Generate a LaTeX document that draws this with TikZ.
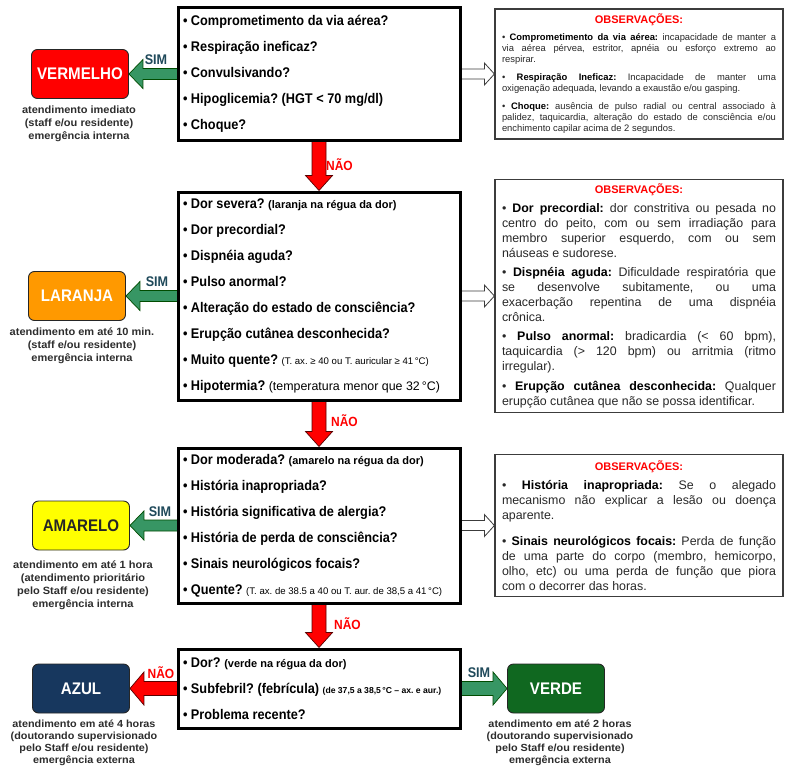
\documentclass[tikz,border=0pt]{standalone}
\usepackage{fontspec}
\setmainfont{Liberation Sans}
\newfontfamily\qfam[FakeStretch=0.91]{Liberation Sans}
\newfontfamily\lblfam[FakeStretch=0.9]{Liberation Sans}
\newfontfamily\capfam[FakeStretch=1.05]{Liberation Sans}
\usetikzlibrary{calc,backgrounds}
\frenchspacing

% triage colours
\definecolor{triRed}{RGB}{255,0,0}
\definecolor{triOrange}{RGB}{255,153,0}
\definecolor{triYellow}{RGB}{255,255,0}
\definecolor{triBlue}{RGB}{23,55,94}
\definecolor{triGreen}{RGB}{16,104,32}
\definecolor{arrowGreen}{RGB}{55,150,100}
\definecolor{simTeal}{RGB}{31,73,90}
\definecolor{capGray}{RGB}{45,45,45}
\definecolor{obsGray}{RGB}{60,60,60}
\definecolor{obsText}{RGB}{40,40,40}

% one unbreakable line of a question box, with the fonts' own word spaces
\newcommand\qitem[1]{\mbox{\spaceskip=0pt\xspaceskip=0pt\textbullet\ #1}}
% smaller remarks inside the question boxes
\newcommand\qnoteB{\normalfont\bfseries\fontsize{11}{26}\selectfont}
\newcommand\qnoteS{\normalfont\fontsize{9.6}{26}\selectfont}
\newcommand\qnoteM{\normalfont\fontsize{12.4}{26}\selectfont}
\newcommand\qnoteT{\normalfont\bfseries\fontsize{8.6}{26}\selectfont}

% paragraph settings for the note boxes
\newcommand\obsSetup{\tolerance=10000\hyphenpenalty=10000\exhyphenpenalty=10000\parskip=0pt\parindent=0pt}
\newcommand\obsTitle[1]{{\centering\color{triRed}\bfseries\fontsize{11}{11}\selectfont #1\par}}
\newcommand\obsLabel[1]{\textbf{\color{black}#1}}

% block arrow: style, tail, tip, shaft half width, head half width, head length
\newcommand{\blockarrow}[6]{%
  \coordinate (ba-neck) at ($(#3)!#6!(#2)$);
  \draw[#1] ($(#2)!#4!90:(#3)$) -- ($(ba-neck)!#4!90:(#3)$) -- ($(ba-neck)!#5!90:(#3)$)
    -- (#3) -- ($(ba-neck)!#5!-90:(#3)$) -- ($(ba-neck)!#4!-90:(#3)$) -- ($(#2)!#4!-90:(#3)$) -- cycle;}

\begin{document}
\begin{tikzpicture}[x=1pt,y=-1pt,
  question/.style={draw=black, line width=3pt, fill=white, minimum width=282pt,
    text width=272pt, align=left, inner sep=0pt,
    font=\qfam\bfseries\fontsize{14}{26}\selectfont},
  obsbox/.style={draw=obsGray, line width=1.2pt, fill=white, minimum width=288pt,
    text width=274pt, align=justify, inner sep=0pt, text=obsText},
  obssmall/.style={font=\obsSetup\fontsize{9.4}{11}\selectfont},
  obslarge/.style={font=\obsSetup\fontsize{12.4}{15}\selectfont},
  colbox/.style={draw=black!85, line width=0.9pt, rounded corners=6pt,
    minimum width=97pt, minimum height=49pt, inner sep=0pt,
    font=\lblfam\bfseries\fontsize{16.8}{18}\selectfont},
  caption/.style={align=center, inner sep=0pt, anchor=north, text=capGray,
    font=\capfam\bfseries\fontsize{10.5}{13}\selectfont},
  lowcaption/.style={caption, font=\capfam\bfseries\fontsize{10.3}{12.2}\selectfont},
  simlabel/.style={text=simTeal, inner sep=0pt, font=\lblfam\bfseries\fontsize{14}{14}\selectfont},
  naolabel/.style={text=triRed, inner sep=0pt, font=\lblfam\bfseries\fontsize{13.3}{14}\selectfont},
  garrow/.style={fill=arrowGreen, draw=black!70!green, line width=0.7pt},
  rarrow/.style={fill=triRed, draw=black!65!red, line width=0.7pt},
  harrow/.style={fill=white, draw=obsGray, line width=0.8pt}]

\useasboundingbox (0,0) rectangle (786,768);

% ---------- question boxes ----------
\node[question, minimum height=132pt] (q1) at (319,74) {%
\qitem{Comprometimento da via aérea?}\\
\qitem{Respiração ineficaz?}\\
\qitem{Convulsivando?}\\
\qitem{Hipoglicemia? (HGT < 70 mg/dl)}\\
\qitem{Choque?}};

\node[question, minimum height=208pt] (q2) at (319,296) {%
\qitem{Dor severa? {\qnoteB (laranja na régua da dor)}}\\
\qitem{Dor precordial?}\\
\qitem{Dispnéia aguda?}\\
\qitem{Pulso anormal?}\\
\qitem{Alteração do estado de consciência?}\\
\qitem{Erupção cutânea desconhecida?}\\
\qitem{Muito quente? {\qnoteS (T. ax. ≥ 40 ou T. auricular ≥ 41\,°C)}}\\
\qitem{Hipotermia? {\qnoteM (temperatura menor que 32\,°C)}}};

\node[question, minimum height=155pt] (q3) at (319,525.5) {%
\qitem{Dor moderada? {\qnoteB (amarelo na régua da dor)}}\\
\qitem{História inapropriada?}\\
\qitem{História significativa de alergia?}\\
\qitem{História de perda de consciência?}\\
\qitem{Sinais neurológicos focais?}\\
\qitem{Quente? {\qnoteS (T. ax. de 38.5 a 40 ou T. aur. de 38,5 a 41\,°C)}}};

\node[question, minimum height=79pt] (q4) at (319,688.5) {%
\qitem{Dor? {\qnoteB (verde na régua da dor)}}\\
\qitem{Subfebril? (febrícula) {\qnoteT (de 37,5 a 38,5\,°C – ax. e aur.)}}\\
\qitem{Problema recente?}};

% ---------- note boxes ----------
\node[obsbox, obssmall, minimum height=130pt] (o1) at (639,74) {%
\obsTitle{OBSERVAÇÕES:}\vspace{6pt}
\textbullet\ \obsLabel{Comprometimento da via aérea:} incapacidade de manter a\linebreak
via aérea pérvea, estritor, apnéia ou esforço extremo ao\linebreak
respirar.\par\vspace{7pt}
\textbullet\ \obsLabel{Respiração Ineficaz:} Incapacidade de manter uma\linebreak
oxigenação adequada, levando a exaustão e/ou gasping.\par\vspace{7pt}
\textbullet\ \obsLabel{Choque:} ausência de pulso radial ou central associado à\linebreak
palidez, taquicardia, alteração do estado de consciência e/ou\linebreak
enchimento capilar acima de 2 segundos.\par};

\node[obsbox, obslarge, minimum height=233pt] (o2) at (639,296) {%
\obsTitle{OBSERVAÇÕES:}\vspace{3.3pt}
\textbullet\ \obsLabel{Dor precordial:} dor constritiva ou pesada no\linebreak
centro do peito, com ou sem irradiação para\linebreak
membro superior esquerdo, com ou sem\linebreak
náuseas e sudorese.\par\vspace{4.3pt}
\textbullet\ \obsLabel{Dispnéia aguda:} Dificuldade respiratória que\linebreak
se desenvolve subitamente, ou uma\linebreak
exacerbação repentina de uma dispnéia\linebreak
crônica.\par\vspace{4.3pt}
\textbullet\ \obsLabel{Pulso anormal:} bradicardia (< 60 bpm),\linebreak
taquicardia (> 120 bpm) ou arritmia (ritmo\linebreak
irregular).\par\vspace{4.3pt}
\textbullet\ \obsLabel{Erupção cutânea desconhecida:} Qualquer\linebreak
erupção cutânea que não se possa identificar.\par};

\node[obsbox, obslarge, minimum height=142pt] (o3) at (639,525.5) {%
\obsTitle{OBSERVAÇÕES:}\vspace{4.3pt}
\textbullet\ \obsLabel{História inapropriada:} Se o alegado\linebreak
mecanismo não explicar a lesão ou doença\linebreak
aparente.\par\vspace{11pt}
\textbullet\ \obsLabel{Sinais neurológicos focais:} Perda de função\linebreak
de uma parte do corpo (membro, hemicorpo,\linebreak
olho, etc) ou uma perda de função que piora\linebreak
com o decorrer das horas.\par};

% ---------- triage colour boxes ----------
\node[colbox, fill=triRed, text=white] (verm) at (80,74) {VERMELHO};
\node[colbox, fill=triOrange, text=white] (lar) at (77,296) {LARANJA};
\node[colbox, fill=triYellow, text=black!85] (am) at (81,525.5) {AMARELO};
\node[colbox, fill=triBlue, text=white] (azul) at (81,688.5) {AZUL};
\node[colbox, fill=triGreen, text=white] (verde) at (556,688.5) {VERDE};

\node[caption] (cverm) at (79,106) {atendimento imediato\\(staff e/ou residente)\\emergência interna};
\node[caption] (clar) at (82,327.5) {atendimento em até 10 min.\\(staff e/ou residente)\\emergência interna};
\node[caption] (cam) at (83,561) {atendimento em até 1 hora\\(atendimento prioritário\\pelo Staff e/ou residente)\\emergência interna};
\node[lowcaption] (cazul) at (84,719.5) {atendimento em até 4 horas\\(doutorando supervisionado\\pelo Staff e/ou residente)\\emergência externa};
\node[lowcaption] (cverde) at (560,719.5) {atendimento em até 2 horas\\(doutorando supervisionado\\pelo Staff e/ou residente)\\emergência externa};

% ---------- answer labels ----------
\node[simlabel] (s1) at (156,60) {SIM};
\node[simlabel] (s2) at (157,282) {SIM};
\node[simlabel] (s3) at (160,512) {SIM};
\node[simlabel] (s4) at (479,673) {SIM};
\node[naolabel] (n0) at (161,673) {NÃO};
\node[naolabel, anchor=west] (n1) at (326,165) {NÃO};
\node[naolabel, anchor=west] (n2) at (331,421) {NÃO};
\node[naolabel, anchor=west] (n3) at (334,624) {NÃO};

% ---------- arrows (behind the boxes) ----------
\begin{pgfonlayer}{background}
  \fill[white] (0,0) rectangle (786,768);
  \blockarrow{garrow}{q1.center}{verm.east}{5.5pt}{14.5pt}{14pt}
  \blockarrow{garrow}{q2.center}{lar.east}{5.5pt}{14.5pt}{14pt}
  \blockarrow{garrow}{q3.center}{am.east}{5.5pt}{14.5pt}{14pt}
  \blockarrow{rarrow}{q4.center}{azul.east}{7pt}{16.5pt}{14pt}
  \blockarrow{garrow}{q4.center}{verde.west}{7pt}{16.5pt}{14pt}
  \blockarrow{harrow}{q1.center}{o1.west}{5pt}{11pt}{10pt}
  \blockarrow{harrow}{q2.center}{o2.west}{5pt}{11pt}{10pt}
  \blockarrow{harrow}{q3.center}{o3.west}{5pt}{11pt}{10pt}
  \blockarrow{rarrow}{q1.center}{q2.north}{7pt}{13.5pt}{15pt}
  \blockarrow{rarrow}{q2.center}{q3.north}{7pt}{13.5pt}{15pt}
  \blockarrow{rarrow}{q3.center}{q4.north}{7pt}{13.5pt}{15pt}
\end{pgfonlayer}
\end{tikzpicture}
\end{document}
